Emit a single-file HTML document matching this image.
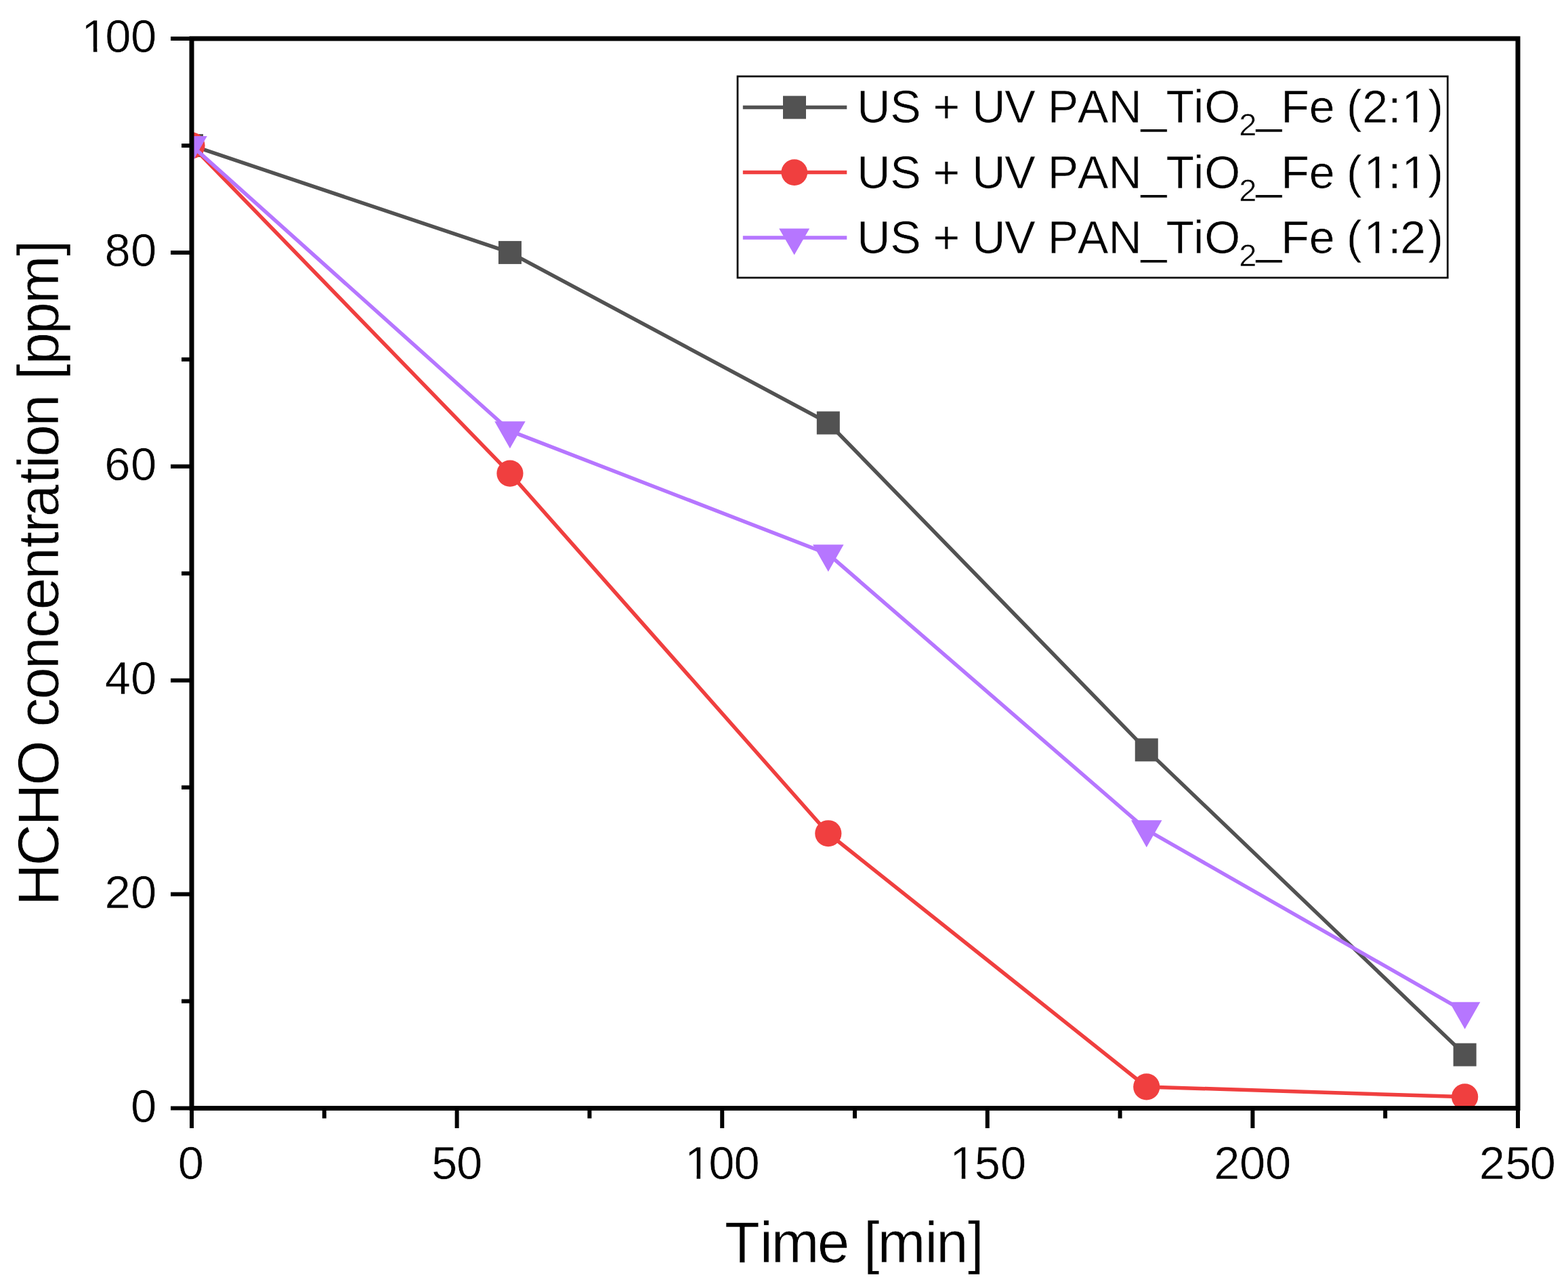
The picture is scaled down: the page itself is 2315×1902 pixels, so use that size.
<!DOCTYPE html>
<html><head><meta charset="utf-8"><title>HCHO concentration vs time</title>
<style>html,body{margin:0;padding:0;background:#fff;overflow:hidden;width:2315px;height:1902px;}svg{display:block;font-kerning:none;white-space:pre;}</style>
</head><body>
<svg width="2315" height="1902" viewBox="0 0 2315 1902">
<defs><clipPath id="pc"><rect x="283" y="57" width="1958" height="1579.5"/></clipPath><clipPath id="k1" clipPathUnits="userSpaceOnUse"><path clip-rule="evenodd" d="M-5000 -5000h10000v10000h-10000zM123.34 68.58H137.9V78.8H123.34zM143.37 68.58H157.22V78.8H143.37z"/></clipPath><clipPath id="k2" clipPathUnits="userSpaceOnUse"><path clip-rule="evenodd" d="M-5000 -5000h10000v10000h-10000zM1014.04 1732.28H1028.6V1742.5H1014.04zM1034.07 1732.28H1047.92V1742.5H1034.07z"/></clipPath><clipPath id="k3" clipPathUnits="userSpaceOnUse"><path clip-rule="evenodd" d="M-5000 -5000h10000v10000h-10000zM1405.24 1732.28H1419.8V1742.5H1405.24zM1425.27 1732.28H1439.12V1742.5H1425.27z"/></clipPath><clipPath id="k4" clipPathUnits="userSpaceOnUse"><path clip-rule="evenodd" d="M-5000 -5000h10000v10000h-10000zM2072.38 172.44H2086.83V182.6H2072.38zM2092.26 172.44H2106V182.6H2092.26z"/></clipPath><clipPath id="k5" clipPathUnits="userSpaceOnUse"><path clip-rule="evenodd" d="M-5000 -5000h10000v10000h-10000zM2016.38 268.84H2030.83V279H2016.38zM2036.26 268.84H2050V279H2036.26zM2072.38 268.84H2086.83V279H2072.38zM2092.26 268.84H2106V279H2092.26z"/></clipPath><clipPath id="k6" clipPathUnits="userSpaceOnUse"><path clip-rule="evenodd" d="M-5000 -5000h10000v10000h-10000zM2016.38 365.34H2030.83V375.5H2016.38zM2036.26 365.34H2050V375.5H2036.26z"/></clipPath></defs>
<rect width="2315" height="1902" fill="#fff"/>
<g clip-path="url(#pc)">
<polyline points="283,214.95 752.92,372.9 1222.84,624.51 1692.76,1107.37 2162.68,1557.53" fill="none" stroke="#525252" stroke-width="5.5" stroke-linejoin="miter"/>
<rect x="266" y="197.95" width="34" height="34" fill="#525252"/>
<rect x="735.92" y="355.9" width="34" height="34" fill="#525252"/>
<rect x="1205.84" y="607.51" width="34" height="34" fill="#525252"/>
<rect x="1675.76" y="1090.37" width="34" height="34" fill="#525252"/>
<rect x="2145.68" y="1540.53" width="34" height="34" fill="#525252"/>
<polyline points="283,214.95 752.92,699.07 1222.84,1230.73 1692.76,1604.91 2162.68,1619.76" fill="none" stroke="#F03F3F" stroke-width="5.5" stroke-linejoin="miter"/>
<circle cx="283" cy="214.95" r="19.6" fill="#F03F3F"/>
<circle cx="752.92" cy="699.07" r="19.6" fill="#F03F3F"/>
<circle cx="1222.84" cy="1230.73" r="19.6" fill="#F03F3F"/>
<circle cx="1692.76" cy="1604.91" r="19.6" fill="#F03F3F"/>
<circle cx="2162.68" cy="1619.76" r="19.6" fill="#F03F3F"/>
<polyline points="283,214.95 752.92,636.2 1222.84,818.16 1692.76,1225.36 2162.68,1493.87" fill="none" stroke="#B676FF" stroke-width="5.5" stroke-linejoin="miter"/>
<polygon points="260.25,200.95 305.75,200.95 283,240.95" fill="#B676FF"/>
<polygon points="730.17,622.2 775.67,622.2 752.92,662.2" fill="#B676FF"/>
<polygon points="1200.09,804.16 1245.59,804.16 1222.84,844.16" fill="#B676FF"/>
<polygon points="1670.01,1211.36 1715.51,1211.36 1692.76,1251.36" fill="#B676FF"/>
<polygon points="2139.93,1479.87 2185.43,1479.87 2162.68,1519.87" fill="#B676FF"/>
</g>
<rect x="283" y="57" width="1958" height="1579.5" fill="none" stroke="#000" stroke-width="7"/>
<path d="M252 1636.5H283M252 1320.6H283M252 1004.7H283M252 688.8H283M252 372.9H283M252 57H283M268 1478.55H283M268 1162.65H283M268 846.75H283M268 530.85H283M268 214.95H283M283 1636.5V1666M674.6 1636.5V1666M1066.2 1636.5V1666M1457.8 1636.5V1666M1849.4 1636.5V1666M2241 1636.5V1666M478.8 1636.5V1651.5M870.4 1636.5V1651.5M1262 1636.5V1651.5M1653.6 1636.5V1651.5M2045.2 1636.5V1651.5" stroke="#000" stroke-width="6" fill="none"/>
<g font-family="'Liberation Sans', Arial, Helvetica, sans-serif" fill="#000">
<text x="193.1" y="1656.8" font-size="68.68" stroke="#fff" stroke-width="0.6" stroke-linejoin="round">0</text>
<text x="154.6 193" y="1340.9" font-size="68.68" stroke="#fff" stroke-width="0.6" stroke-linejoin="round">20</text>
<text x="154.82 193" y="1025" font-size="68.68" stroke="#fff" stroke-width="0.6" stroke-linejoin="round">40</text>
<text x="154.37 193" y="709.1" font-size="68.68" stroke="#fff" stroke-width="0.6" stroke-linejoin="round">60</text>
<text x="154.6 193" y="393.2" font-size="68.68" stroke="#fff" stroke-width="0.6" stroke-linejoin="round">80</text>
<text x="120.33 155.2 192.9" y="77.3" font-size="68.68" clip-path="url(#k1)" stroke="#fff" stroke-width="0.6" stroke-linejoin="round">100</text>
<text x="262.7" y="1741" font-size="68.68" stroke="#fff" stroke-width="0.6" stroke-linejoin="round">0</text>
<text x="636.97 674" y="1741" font-size="68.68" stroke="#fff" stroke-width="0.6" stroke-linejoin="round">50</text>
<text x="1011.03 1046.3 1083.6" y="1741" font-size="68.68" clip-path="url(#k2)" stroke="#fff" stroke-width="0.6" stroke-linejoin="round">100</text>
<text x="1402.23 1438.72 1476.9" y="1741" font-size="68.68" clip-path="url(#k3)" stroke="#fff" stroke-width="0.6" stroke-linejoin="round">150</text>
<text x="1792.2 1829.9 1867.9" y="1741" font-size="68.68" stroke="#fff" stroke-width="0.6" stroke-linejoin="round">200</text>
<text x="2183.65 2222.62 2258.75" y="1741" font-size="68.68" stroke="#fff" stroke-width="0.6" stroke-linejoin="round">250</text>
</g>
<text x="1070.11 1122.1 1138.84 1206.89 1254.07 1275.07 1295.84 1365.6 1382.15 1428.96" y="1863.9" font-size="84.84" font-family="'Liberation Sans', Arial, Helvetica, sans-serif" stroke="#fff" stroke-width="0.6" stroke-linejoin="round">Time [min]</text>
<g transform="translate(86.3 0) rotate(-90)"><text x="-1337.14 -1278.51 -1219.24 -1159.87 -1093.49 -1073.42 -1032.68 -987.99 -941.97 -900.4 -855.79 -808.49 -786.54 -763.25 -714.14 -691.71 -674.38 -629.64 -582.18 -561.01 -538.34 -493.54 -448.52 -378.3" y="0" font-size="85.34" font-family="'Liberation Sans', Arial, Helvetica, sans-serif" stroke="#fff" stroke-width="0.6" stroke-linejoin="round">HCHO concentration [ppm]</text></g>
<rect x="1089" y="112.8" width="1048.3" height="297.3" fill="#fff" stroke="#111" stroke-width="2.8"/>
<g font-family="'Liberation Sans', Arial, Helvetica, sans-serif" fill="#000">
<path d="M1096.8 158.6H1250.3" stroke="#525252" stroke-width="5.5"/>
<rect x="1156" y="141.6" width="34" height="34" fill="#525252"/>
<text x="1265.18 1314.28 1359.75 1377.46 1417.27 1435.23 1483.21 1528.69 1546.82 1591.06 1636.42 1684.48 1721.49 1762.14 1778.3" y="181.1" font-size="68.17" clip-path="url(#k4)" stroke="#fff" stroke-width="0.6" stroke-linejoin="round">US + UV PAN_TiO<tspan x="1829.29" y="200.4" font-size="46.97">2</tspan><tspan x="1854.58 1891.3 1932.86 1970.77 1988.08 2011.19 2049.43 2069.39 2108.16" y="181.1" font-size="68.17">_Fe (2:1)</tspan></text>
<path d="M1096.8 254.6H1250.3" stroke="#F03F3F" stroke-width="5.5"/>
<circle cx="1172.8" cy="254.6" r="19.4" fill="#F03F3F"/>
<text x="1265.18 1314.28 1359.75 1377.46 1417.27 1435.23 1483.21 1528.69 1546.82 1591.06 1636.42 1684.48 1721.49 1762.14 1778.3" y="277.5" font-size="68.17" clip-path="url(#k5)" stroke="#fff" stroke-width="0.6" stroke-linejoin="round">US + UV PAN_TiO<tspan x="1829.29" y="296.8" font-size="46.97">2</tspan><tspan x="1854.58 1891.3 1932.86 1970.77 1988.08 2013.39 2049.43 2069.39 2108.16" y="277.5" font-size="68.17">_Fe (1:1)</tspan></text>
<path d="M1096.8 351.1H1250.3" stroke="#B676FF" stroke-width="5.5"/>
<polygon points="1150.2,337.45 1195.2,337.45 1172.7,376.45" fill="#B676FF"/>
<text x="1265.18 1314.28 1359.75 1377.46 1417.27 1435.23 1483.21 1528.69 1546.82 1591.06 1636.42 1684.48 1721.49 1762.14 1778.3" y="374" font-size="68.17" clip-path="url(#k6)" stroke="#fff" stroke-width="0.6" stroke-linejoin="round">US + UV PAN_TiO<tspan x="1829.29" y="393.3" font-size="46.97">2</tspan><tspan x="1854.58 1891.3 1932.86 1970.77 1988.08 2013.39 2049.43 2067.19 2108.16" y="374" font-size="68.17">_Fe (1:2)</tspan></text>
</g>
</svg>
</body></html>
